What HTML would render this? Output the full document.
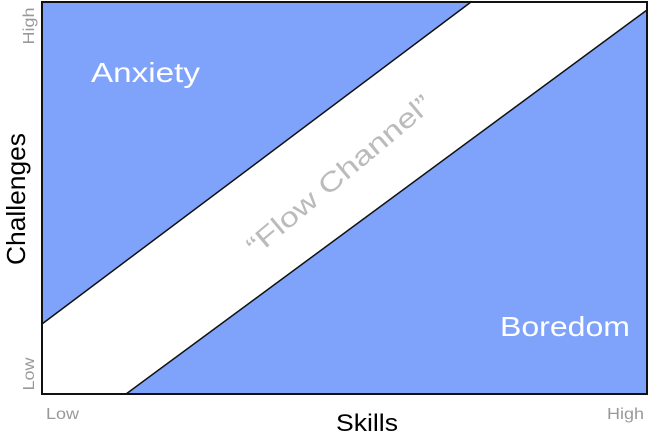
<!DOCTYPE html>
<html><head><style>html,body{margin:0;padding:0;background:#fff;}</style></head>
<body>
<svg width="651" height="435" viewBox="0 0 651 435" xmlns="http://www.w3.org/2000/svg" font-family="Liberation Sans, sans-serif">
<rect x="42" y="2" width="605" height="392" fill="#fff" stroke="#111" stroke-width="2"/>
<polygon points="42,2 471,2 42,324" fill="#7fa2fb" stroke="#111" stroke-width="1.5" stroke-linejoin="round"/>
<polygon points="126,394 647,10 647,394" fill="#7fa2fb" stroke="#111" stroke-width="1.5" stroke-linejoin="round"/>
<rect x="42" y="2" width="605" height="392" fill="none" stroke="#111" stroke-width="2"/>
<text x="91" y="82" font-size="28" fill="#fff" textLength="109" lengthAdjust="spacingAndGlyphs">Anxiety</text>
<text x="500" y="336" font-size="28" fill="#fff" textLength="130" lengthAdjust="spacingAndGlyphs">Boredom</text>
<text transform="translate(345,182) rotate(-40)" text-anchor="middle" font-size="27" fill="#bbb" textLength="232" lengthAdjust="spacingAndGlyphs">“Flow Channel”</text>
<text transform="translate(25,199) rotate(-90)" text-anchor="middle" font-size="26" fill="#000" textLength="132" lengthAdjust="spacingAndGlyphs">Challenges</text>
<text x="367" y="431" text-anchor="middle" font-size="24" fill="#000" textLength="62" lengthAdjust="spacingAndGlyphs">Skills</text>
<text x="46" y="419" font-size="16" fill="#999" textLength="33" lengthAdjust="spacingAndGlyphs">Low</text>
<text x="607" y="419" font-size="16" fill="#999" textLength="37" lengthAdjust="spacingAndGlyphs">High</text>
<text transform="translate(34,374) rotate(-90)" text-anchor="middle" font-size="16" fill="#999" textLength="33" lengthAdjust="spacingAndGlyphs">Low</text>
<text transform="translate(34,26) rotate(-90)" text-anchor="middle" font-size="16" fill="#999" textLength="37" lengthAdjust="spacingAndGlyphs">High</text>
</svg>
</body></html>
